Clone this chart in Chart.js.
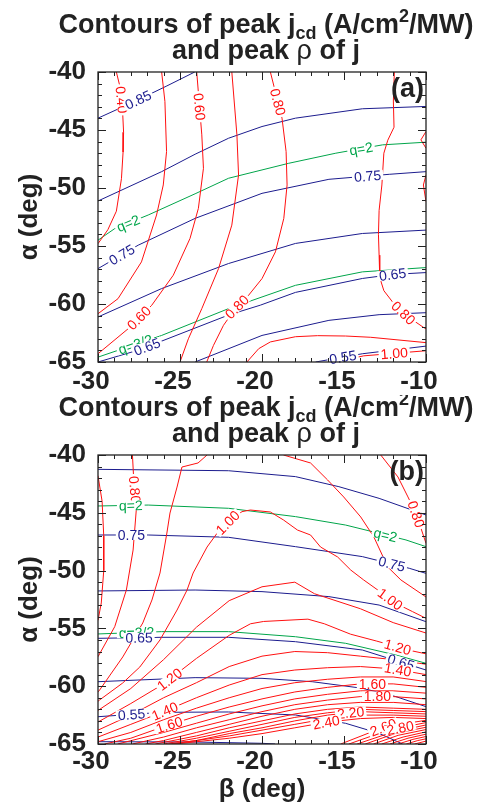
<!DOCTYPE html>
<html><head><meta charset="utf-8">
<script src="https://cdn.jsdelivr.net/npm/chart.js@4/dist/chart.umd.min.js"></script>
<style>
html,body{margin:0;padding:0;background:#fff;}
#wrap{position:relative;width:479px;height:805px;overflow:hidden;background:#fff;}
canvas{position:absolute;left:0;}
</style></head><body>
<div id="wrap">
<canvas id="pa" width="479" height="395" style="top:0"></canvas>
<canvas id="pb" width="479" height="410" style="top:395px"></canvas>
</div>
<script>
// ---------- axes ----------
const xRange = [-30, -10];
const yRange = [-65, -40];
const tickStep = 5;

// ---------- panel (a) contour lines [beta, alpha] ----------
const a_jcd040 = [[-28.88,-40],[-28.62,-41.5],[-28.5,-43.4],[-28.44,-45.2],[-28.47,-46.9],[-28.57,-49.2],[-28.88,-52.0],[-29.4,-53.6],[-30,-54.8]];
const a_jcd050 = [[-26.12,-40],[-25.92,-42.54],[-25.82,-46.86],[-26.02,-49.74],[-26.43,-52.33],[-27.35,-56.37],[-28.78,-59.54],[-30,-60.84]];
const a_jcd060 = [[-23.98,-40],[-23.67,-45.42],[-23.57,-48.3],[-23.88,-51.76],[-24.39,-54.35],[-25.41,-57.52],[-26.73,-60.12],[-28.16,-62.13],[-30,-64.29]];
const a_jcd070 = [[-21.84,-40],[-21.53,-45.42],[-21.43,-48.88],[-21.84,-53.2],[-22.65,-56.95],[-23.67,-60.4],[-24.49,-63],[-25,-65]];
const a_jcd080 = [[-19.49,-40],[-18.78,-43.98],[-18.53,-46.86],[-18.47,-49.74],[-18.67,-52.62],[-19.18,-55.5],[-20,-57.81],[-20.82,-59.25],[-21.63,-60.4],[-22.35,-61.84],[-22.96,-63.57],[-23.37,-65]];
const a_jcd090 = [[-20.92,-65],[-20.2,-63.85],[-19.49,-63.27],[-17.96,-62.82],[-16.61,-62.73],[-14.9,-62.76],[-13.37,-62.87],[-10,-63.33]];
const a_jcd100 = [[-15.51,-65],[-13.8,-64.47],[-10,-64.03]];
const a_jcd080r = [[-11.93,-40],[-11.99,-42.5],[-11.95,-44.76],[-12.33,-45.88],[-12.57,-47],[-12.69,-49.74],[-12.86,-51.93],[-12.9,-54.0],[-12.86,-55.79],[-12.82,-57.72],[-12.57,-58.85],[-11.96,-59.97],[-11.22,-60.98],[-10.12,-62.05],[-10,-62.13]];
const a_jcdS1 = [[-10,-45.13],[-10.31,-45.85],[-10,-46.57]];
const a_jcdS2 = [[-10,-48.88],[-10.16,-49.74],[-10,-51.18]];
const a_rho085 = [[-30,-43.98],[-27.55,-42.4],[-25.8,-41.2],[-24.1,-40]];
const a_rho080 = [[-30,-51.12],[-26.12,-48.59],[-24.08,-47.09],[-22.04,-45.71],[-20,-44.7],[-17.96,-43.98],[-13.88,-43.17],[-10,-42.97]];
const a_rho075 = [[-30,-56.95],[-27.55,-54.93],[-24.08,-52.62],[-20,-50.46],[-15.92,-49.25],[-12.24,-48.82],[-10,-48.59]];
const a_rho070 = [[-30,-61.12],[-26.12,-58.67],[-22.04,-56.51],[-17.96,-54.78],[-13.88,-53.92],[-10,-53.63]];
const a_rho065 = [[-30,-65],[-27.6,-64.0],[-26.12,-63.2],[-22.04,-60.95],[-20.1,-60.1],[-17.96,-59.0],[-13.88,-57.8],[-12,-57.45],[-10,-57.29]];
const a_rho060 = [[-24.08,-65],[-20,-62.71],[-15.92,-61.41],[-12.86,-60.92],[-10,-60.75]];
const a_rho055 = [[-16.73,-65],[-13.88,-64.29],[-10,-63.63]];
const a_q2 = [[-30,-54.5],[-28.98,-53.5],[-26.94,-52.33],[-24.08,-50.5],[-22.04,-49.16],[-18.37,-47.87],[-15.5,-47.0],[-12.65,-46.28],[-10,-46.05]];
const a_q32 = [[-30,-64.58],[-26.12,-62.71],[-22.04,-60.40],[-17.96,-58.39],[-13.88,-57.23],[-10,-56.86]];

// ---------- panel (b) contour lines ----------
const b_jcd070 = [[-30,-41.8],[-29.75,-44],[-29.65,-47],[-29.65,-50],[-29.8,-52.8],[-30,-54.3]];
const b_jcd080 = [[-27.9,-40],[-27.83,-41.9],[-27.65,-44.47],[-27.86,-48.22],[-28.27,-51.68],[-28.98,-54.85],[-30,-57.45]];
const b_jcd090 = [[-23.35,-40],[-23.9,-40.69],[-24.88,-41.04],[-25.18,-42.77],[-25.61,-45.02],[-25.8,-46.75],[-26.22,-50.21],[-26.71,-52.54],[-27.27,-54.53],[-28.49,-57.47],[-29.9,-60.33],[-30,-60.5]];
const b_jcd100 = [[-30,-61.3],[-29.9,-61.19],[-28.49,-59.72],[-27.45,-58.34],[-26.22,-56],[-25.18,-53.41],[-24.57,-51.68],[-24.2,-50.21],[-23.35,-47.96],[-22.73,-46.75],[-22.04,-45.77],[-21.22,-44.9],[-20.71,-44.76],[-19.49,-44.93],[-18.69,-45.62],[-17.84,-46.49],[-17.04,-46.92],[-16.43,-47.96],[-15.39,-48.82],[-14.59,-49.95],[-13.8,-50.81],[-12.94,-51.68],[-11.84,-52.83],[-10.82,-53.55],[-10,-54.13]];
const b_jcd090r = [[-18.69,-40],[-17.04,-40.69],[-16,-42.16],[-15.02,-43.63],[-13.98,-45.36],[-13.18,-47.09],[-12.33,-49.69],[-11.53,-50.81],[-10,-52.28]];
const b_jcd080r = [[-12.76,-40],[-11.71,-41.9],[-11.1,-43.63],[-10.61,-45.05],[-10,-47.64]];
const b_jcd110 = [[-30,-62.1],[-28,-60.2],[-26,-57.7],[-24,-54.9],[-22,-52.6],[-20,-51.4],[-18,-51.0],[-16.8,-52.0],[-14,-53.3],[-12,-54.5],[-10,-55.4]];
const b_jcd120 = [[-30,-63.1],[-28,-61.5],[-26,-59.8],[-24,-57.6],[-22,-55.6],[-20.7,-54.6],[-19.9,-54.4],[-17.2,-54.2],[-16.2,-54.6],[-14.6,-55.5],[-13,-56.1],[-11,-56.9],[-10,-57.2]];
const b_jcd130 = [[-30,-63.8],[-28,-62.5],[-26,-61.0],[-24,-59.7],[-22,-58.3],[-20,-57.4],[-18,-57.0],[-16,-57.1],[-14,-57.4],[-12,-57.7],[-10,-58.1]];
const b_jcd140 = [[-30,-64.4],[-28,-63.3],[-26,-62.2],[-24,-61.0],[-22,-59.9],[-20,-59.0],[-18,-58.6],[-16,-58.4],[-14,-58.3],[-12,-58.5],[-10,-59.0]];
const b_jcd150 = [[-30,-64.8],[-28,-64.0],[-26,-62.9],[-24,-61.9],[-22,-61.0],[-20,-60.2],[-18,-59.7],[-16,-59.4],[-14,-59.2],[-12,-59.2],[-10,-59.6]];
const b_jcd160 = [[-29.6,-65],[-28,-64.5],[-26,-63.5],[-24,-62.6],[-22,-61.8],[-20,-61.1],[-18,-60.5],[-16,-60.1],[-14,-59.8],[-12,-59.8],[-10,-60.1]];
const b_jcd170 = [[-28.8,-65],[-26,-64.0],[-24,-63.2],[-22,-62.4],[-20,-61.7],[-18,-61.1],[-16,-60.7],[-14,-60.4],[-12,-60.4],[-10,-60.6]];
const b_jcd180 = [[-27.9,-65],[-26,-64.4],[-24,-63.6],[-22,-62.9],[-20,-62.2],[-18,-61.6],[-16,-61.2],[-14,-60.9],[-12,-60.9],[-10,-61.1]];
const b_jcd190 = [[-27.1,-65],[-26,-64.7],[-24,-64.0],[-22,-63.3],[-20,-62.6],[-18,-62.0],[-16,-61.6],[-14,-61.4],[-12,-61.4],[-10,-61.6]];
const b_jcd200 = [[-26.5,-65],[-24,-64.3],[-22,-63.6],[-20,-63.0],[-18,-62.4],[-16,-62.0],[-14,-61.8],[-12,-61.9],[-10,-62.0]];
const b_jcd210 = [[-26.0,-65],[-24,-64.5],[-22,-63.9],[-20,-63.3],[-18,-62.7],[-16,-62.3],[-14,-62.0],[-12,-62.1],[-10,-62.2]];
const b_jcd220 = [[-25.7,-65],[-24,-64.7],[-22,-64.1],[-20,-63.6],[-18,-63.0],[-16,-62.5],[-14,-62.2],[-12,-62.3],[-10,-62.4]];
const b_jcd230 = [[-25.5,-65],[-22,-64.3],[-20,-63.8],[-18,-63.3],[-16,-62.8],[-14,-62.5],[-12,-62.5],[-10,-62.6]];
const b_jcd240 = [[-25.3,-65],[-22,-64.5],[-20,-64.1],[-18,-63.6],[-16,-63.1],[-14,-62.8],[-12,-62.7],[-10,-62.8]];
const b_jcd260 = [[-15.2,-65],[-12.5,-63.5],[-10,-62.95]];
const b_jcd280 = [[-14.7,-65],[-12.3,-63.8],[-10,-63.15]];
const b_jcd300 = [[-14.2,-65],[-12.1,-64.0],[-10,-63.35]];
const b_jcd320 = [[-13.7,-65],[-11.9,-64.1],[-10,-63.55]];
const b_jcd340 = [[-13.2,-65],[-11.7,-64.25],[-10,-63.75]];
const b_jcd360 = [[-12.7,-65],[-11.4,-64.4],[-10,-63.95]];
const b_jcd380 = [[-12.2,-65],[-11.1,-64.5],[-10,-64.15]];
const b_jcd400 = [[-11.7,-65],[-10.8,-64.6],[-10,-64.35]];
const b_jcd420 = [[-11.2,-65],[-10.5,-64.7],[-10,-64.55]];
const b_jcd440 = [[-10.7,-65],[-10,-64.75]];
const b_rho080 = [[-30,-41.24],[-22.04,-41.36],[-17.96,-41.87],[-15.31,-42.74],[-12.86,-43.75],[-10,-45.19]];
const b_rho075 = [[-30,-46.92],[-26.94,-46.92],[-22.04,-47.12],[-17.96,-47.93],[-13.88,-48.79],[-11.02,-49.8],[-10,-50.24]];
const b_rho070 = [[-30,-51.76],[-24.08,-51.68],[-20,-51.82],[-15.92,-52.25],[-12.86,-52.98],[-10,-54.42]];
const b_rho065 = [[-30,-55.86],[-26.12,-55.77],[-22.04,-55.77],[-17.96,-56.15],[-13.88,-56.87],[-10,-58.6]];
const b_rho060 = [[-30,-59.61],[-24.08,-59.26],[-20,-59.32],[-16.94,-59.61],[-13.88,-60.18],[-11.84,-60.9],[-10,-61.77]];
const b_rho055 = [[-30,-62.64],[-26.12,-62.26],[-22.04,-62.23],[-17.96,-62.49],[-14.9,-63.21],[-12.86,-64.08],[-11.43,-65]];
const b_rho050 = [[-30,-64.8],[-24.08,-64.83],[-20,-64.94],[-19.2,-65]];
const b_q2 = [[-30,-44.41],[-26.94,-44.33],[-22.04,-44.61],[-17.96,-45.33],[-14.9,-46.06],[-11.22,-47.35],[-10,-47.93]];
const b_q32 = [[-30,-55.48],[-26.12,-55.28],[-22.04,-55.28],[-17.96,-55.72],[-14.9,-56.29],[-11.84,-57.3],[-10,-58.02]];

// ---------- contour labels: [text, line, beta, alpha] ----------
const a_labels = [
  ['0.40','a_jcd040',-28.57,-42.4], ['0.85','a_rho085',-27.55,-42.4], ['0.60','a_jcd060',-23.63,-42.97],
  ['0.80','a_jcd080',-18.92,-42.54], ['q=2','a_q2',-28.16,-53.05], ['q=2','a_q2',-13.98,-46.48],
  ['0.75','a_rho075',-28.47,-55.94], ['0.75','a_rho075',-13.57,-48.82], ['0.65','a_rho065',-12.04,-57.38],
  ['0.60','a_jcd060',-27.65,-60.98], ['0.80','a_jcd080',-21.63,-60.12], ['0.80','a_jcd080r',-11.33,-60.69],
  ['q=3/2','a_q32',-27.76,-63.29], ['0.65','a_rho065',-27.04,-63.57], ['0.55','a_rho055',-15.1,-64.35],
  ['1.00','a_jcd100',-11.94,-64.15]
];
const b_labels = [
  ['0.80','b_jcd080',-27.8,-43.0], ['q=2','b_q2',-28.0,-44.4], ['0.75','b_rho075',-27.96,-46.83],
  ['1.00','b_jcd100',-21.94,-46.06], ['q=2','b_q2',-12.45,-46.78], ['0.75','b_rho075',-12.04,-49.17],
  ['0.80','b_jcd080r',-10.45,-45.05], ['1.00','b_jcd100',-12.14,-52.4], ['q=3/2','b_q32',-27.65,-55.37],
  ['0.65','b_rho065',-27.5,-55.77], ['1.20','b_jcd120',-25.6,-59.46], ['1.20','b_jcd120',-11.73,-56.6],
  ['0.65','b_rho065',-11.47,-57.68], ['1.40','b_jcd140',-11.7,-58.4], ['1.60','b_jcd160',-13.27,-59.8],
  ['1.80','b_jcd180',-12.96,-60.9], ['1.40','b_jcd140',-26.0,-61.9], ['1.60','b_jcd160',-25.67,-63.3],
  ['0.55','b_rho055',-27.96,-62.4], ['2.20','b_jcd220',-14.6,-62.2], ['2.40','b_jcd240',-16.1,-63.0],
  ['2.60','b_jcd260',-12.6,-63.6], ['2.80','b_jcd280',-11.6,-63.4]
];

const LINES = {a_jcd040,a_jcd050,a_jcd060,a_jcd070,a_jcd080,a_jcd090,a_jcd100,a_jcd080r,a_jcdS1,a_jcdS2,
  a_rho085,a_rho080,a_rho075,a_rho070,a_rho065,a_rho060,a_rho055,a_q2,a_q32,
  b_jcd070,b_jcd080,b_jcd090,b_jcd100,b_jcd090r,b_jcd080r,b_jcd110,b_jcd120,b_jcd130,b_jcd140,b_jcd150,b_jcd160,
  b_jcd170,b_jcd180,b_jcd190,b_jcd200,b_jcd210,b_jcd220,b_jcd230,b_jcd240,b_jcd260,b_jcd280,b_jcd300,b_jcd320,
  b_jcd340,b_jcd360,b_jcd380,b_jcd400,b_jcd420,b_jcd440,
  b_rho080,b_rho075,b_rho070,b_rho065,b_rho060,b_rho055,b_rho050,b_q2,b_q32};

const COLORS = {jcd:'#ff1010', rho:'#1c1c8e', q:'#00a54a'};
function kindOf(name){ return name.includes('_jcd') ? 'jcd' : name.includes('_rho') ? 'rho' : 'q'; }

const FONT = '"Liberation Sans", Arial, Helvetica, sans-serif';

const decorPlugin = {
  id: 'decor',
  afterDatasetsDraw(chart) {
    const o = chart.options.plugins.decor;
    const {ctx, chartArea: ca, scales: {x, y}} = chart;
    ctx.save();
    // contour labels
    ctx.font = '14px ' + FONT;
    ctx.textAlign = 'center';
    ctx.textBaseline = 'middle';
    for (const [txt, name, bx, ay] of o.labels) {
      const pts = LINES[name].map(p => [x.getPixelForValue(p[0]), y.getPixelForValue(p[1])]);
      const tx = x.getPixelForValue(bx), ty = y.getPixelForValue(ay);
      let best = null;
      for (let i = 0; i < pts.length - 1; i++) {
        const [x1, y1] = pts[i], [x2, y2] = pts[i + 1];
        const dx = x2 - x1, dy = y2 - y1;
        const L2 = dx * dx + dy * dy || 1;
        let t = ((tx - x1) * dx + (ty - y1) * dy) / L2;
        t = Math.max(0, Math.min(1, t));
        const px = x1 + t * dx, py = y1 + t * dy;
        const d = (px - tx) ** 2 + (py - ty) ** 2;
        if (!best || d < best.d) best = {d, px, py, ang: Math.atan2(dy, dx)};
      }
      let ang = best.ang;
      if (ang > Math.PI / 2) ang -= Math.PI;
      if (ang <= -Math.PI / 2) ang += Math.PI;
      const w = ctx.measureText(txt).width;
      ctx.save();
      ctx.translate(best.px, best.py);
      ctx.rotate(ang);
      ctx.fillStyle = '#fff';
      ctx.fillRect(-w / 2 - 2, -5, w + 4, 10);
      ctx.fillStyle = COLORS[kindOf(name)];
      ctx.fillText(txt, 0, 1);
      ctx.restore();
    }
    // frame
    ctx.strokeStyle = '#222';
    ctx.lineWidth = 1.3;
    ctx.strokeRect(ca.left, ca.top, ca.right - ca.left, ca.bottom - ca.top);
    ctx.lineWidth = 1;
    ctx.beginPath();
    for (let v = xRange[0]; v <= xRange[1]; v++) {
      const px = Math.round(x.getPixelForValue(v)) + 0.5;
      const L = v % tickStep === 0 ? 8 : 4;
      ctx.moveTo(px, ca.bottom); ctx.lineTo(px, ca.bottom - L);
      ctx.moveTo(px, ca.top); ctx.lineTo(px, ca.top + L);
    }
    for (let v = yRange[0]; v <= yRange[1]; v++) {
      const py = Math.round(y.getPixelForValue(v)) + 0.5;
      const L = v % tickStep === 0 ? 8 : 4;
      ctx.moveTo(ca.left, py); ctx.lineTo(ca.left + L, py);
      ctx.moveTo(ca.right, py); ctx.lineTo(ca.right - L, py);
    }
    ctx.stroke();
    // panel tag
    ctx.fillStyle = '#222';
    ctx.font = 'bold 27px ' + FONT;
    ctx.textAlign = 'right';
    ctx.textBaseline = 'alphabetic';
    ctx.fillText(o.tag, ca.right - 2, ca.top + 25);
    // title
    drawTitle(ctx, o.titleY1, o.titleY2);
    ctx.restore();
  }
};

function drawTitle(ctx, y1, y2) {
  const cx = 266;
  const big = 'bold 27px ' + FONT, small = 'bold 18px ' + FONT;
  const parts = [['Contours of peak j', big, 0], ['cd', small, 6], [' (A/cm', big, 0], ['2', small, -11], ['/MW)', big, 0]];
  let total = 0;
  for (const p of parts) { ctx.font = p[1]; total += ctx.measureText(p[0]).width; }
  let xx = cx - total / 2;
  ctx.fillStyle = '#222';
  ctx.textAlign = 'left';
  ctx.textBaseline = 'alphabetic';
  for (const p of parts) { ctx.font = p[1]; ctx.fillText(p[0], xx, y1 + p[2]); xx += ctx.measureText(p[0]).width; }
  const p2 = [['and peak ', big], ['\u03C1', '27px ' + FONT], [' of j', big]];
  total = 0;
  for (const p of p2) { ctx.font = p[1]; total += ctx.measureText(p[0]).width; }
  xx = cx - total / 2;
  for (const p of p2) { ctx.font = p[1]; ctx.fillText(p[0], xx, y2); xx += ctx.measureText(p[0]).width; }
}

function build(id, prefix, labels, cfg) {
  const names = Object.keys(LINES).filter(n => n.startsWith(prefix));
  const datasets = names.map(n => ({
    label: n,
    data: LINES[n].map(p => ({x: p[0], y: p[1]})),
    showLine: true, borderColor: COLORS[kindOf(n)], borderWidth: 1,
    pointRadius: 0, pointHoverRadius: 0, tension: 0, fill: false
  }));
  const tickFont = {family: FONT, size: 26, weight: 'bold'};
  return new Chart(document.getElementById(id), {
    type: 'scatter',
    data: {datasets},
    plugins: [decorPlugin],
    options: {
      responsive: false, animation: false, devicePixelRatio: 1,
      layout: {padding: {left: 0, right: 53, top: cfg.top, bottom: 0}},
      plugins: {legend: {display: false}, tooltip: {enabled: false},
        decor: {labels, tag: cfg.tag, titleY1: cfg.t1, titleY2: cfg.t2}},
      scales: {
        x: {type: 'linear', min: xRange[0], max: xRange[1],
          grid: {display: false, drawTicks: false}, border: {display: false},
          ticks: {stepSize: tickStep, color: '#222', font: tickFont, padding: cfg.xpad, labelOffset: -7, maxRotation: 0},
          title: {display: !!cfg.xtitle, text: cfg.xtitle || '', color: '#222', font: {family: FONT, size: 26, weight: 'bold', lineHeight: 1.2}, padding: {top: 0, bottom: 0}},
          afterFit: s => { s.height = cfg.xh; }},
        y: {type: 'linear', min: yRange[0], max: yRange[1],
          grid: {display: false, drawTicks: false}, border: {display: false},
          ticks: {stepSize: tickStep, color: '#222', font: tickFont, padding: 12},
          title: {display: true, text: '\u03B1 (deg)', color: '#222', font: {family: FONT, size: 26, weight: 'bold', lineHeight: 1.2}, padding: {top: 14, bottom: 0}},
          afterFit: s => { s.width = 98; }}
      }
    }
  });
}

build('pa', 'a_', a_labels, {top: 72, xh: 33, xpad: 4, tag: '(a)', t1: 33, t2: 59});
build('pb', 'b_', b_labels, {top: 60, xh: 61, xpad: 2, tag: '(b)', t1: 21, t2: 47, xtitle: '\u03B2 (deg)'});
</script>
</body></html>
